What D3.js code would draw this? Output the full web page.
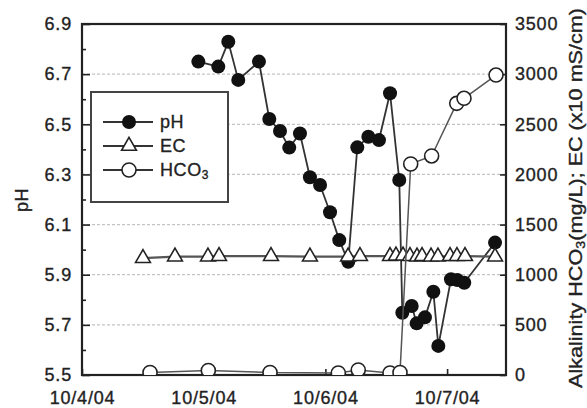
<!DOCTYPE html>
<html><head><meta charset="utf-8">
<script src="https://cdn.jsdelivr.net/npm/d3@7"></script>
<style>
html,body{margin:0;padding:0;background:#fff;}
text{font-family:"Liberation Sans",Arial,Helvetica,sans-serif;fill:#222;stroke:#222;stroke-width:0.35px;}
</style></head>
<body>
<svg id="chart" width="587" height="408"></svg>
<script>
// ---- data (x in days since 10/4/04) ----
const dayTicks = [0, 1, 2, 3];
const dayLabels = ["10/4/04", "10/5/04", "10/6/04", "10/7/04"];
const phTicks = [5.5, 5.7, 5.9, 6.1, 6.3, 6.5, 6.7, 6.9];
const rightTicks = [0, 500, 1000, 1500, 2000, 2500, 3000, 3500];

const phDays = [0.956,1.120,1.202,1.284,1.454,1.539,1.627,1.703,1.791,1.873,1.956,2.038,2.114,2.188,2.262,2.353,2.440,2.531,2.607,2.632,2.709,2.750,2.818,2.887,2.928,3.032,3.084,3.141,3.394];
const phValues = [6.750,6.730,6.829,6.677,6.750,6.521,6.473,6.407,6.463,6.289,6.258,6.149,6.038,5.952,6.408,6.450,6.437,6.624,6.278,5.748,5.775,5.706,5.730,5.832,5.616,5.882,5.879,5.868,6.028];

const ecDays = [0.501,0.764,1.035,1.126,1.553,1.873,2.186,2.284,2.531,2.580,2.638,2.695,2.753,2.794,2.868,2.925,3.024,3.081,3.147,3.394];
const ecValues = [1165,1180,1180,1185,1185,1180,1180,1185,1185,1190,1190,1185,1180,1185,1180,1180,1185,1185,1185,1180];

const hco3Days = [0.559,1.038,1.545,2.106,2.270,2.531,2.613,2.701,2.873,3.079,3.139,3.402];
const hco3Values = [25,45,25,20,50,20,25,2104,2184,2709,2759,2991];

// ---- layout ----
const L = 82, R = 506, T = 24, B = 375;
const svg = d3.select("#chart");
const x = d3.scaleLinear().domain([0, 3.484]).range([L, R]);
const yL = d3.scaleLinear().domain([5.5, 6.9]).range([B, T]);
const yR = d3.scaleLinear().domain([0, 3500]).range([B, T]);

svg.append("defs").append("clipPath").attr("id","clip")
  .append("rect").attr("x",L).attr("y",T-10).attr("width",R-L).attr("height",B-T+10);

// gridlines
svg.append("g").selectAll("line").data(phTicks.filter(v => v > 5.55 && v < 6.85)).join("line")
  .attr("x1", L).attr("x2", R).attr("y1", d => yL(d)).attr("y2", d => yL(d))
  .attr("stroke", "#c4c4c4").attr("stroke-width", 1.3).attr("stroke-dasharray", "3,2");

const fs = 18;
function styleAxis(g){
  g.selectAll("text").attr("font-size", fs).attr("letter-spacing", "0.8px");
  g.selectAll(".tick line").attr("stroke","#222").attr("stroke-width",1.6);
  g.select(".domain").remove();
}
// left axis
svg.append("g").attr("transform", `translate(${L},0)`)
  .call(d3.axisLeft(yL).tickValues(phTicks).tickFormat(d3.format(".1f")).tickSizeInner(-8).tickSizeOuter(0).tickPadding(10))
  .call(styleAxis);
// left minor ticks
svg.append("g").attr("transform", `translate(${L},0)`)
  .call(d3.axisLeft(yL).tickValues([5.6,5.8,6.0,6.2,6.4,6.6,6.8]).tickFormat("").tickSizeInner(-4).tickSizeOuter(0))
  .call(styleAxis);
// right axis
svg.append("g").attr("transform", `translate(${R},0)`)
  .call(d3.axisRight(yR).tickValues(rightTicks).tickFormat(d3.format("d")).tickSizeInner(-6).tickSizeOuter(0).tickPadding(9))
  .call(styleAxis);
// bottom axis
svg.append("g").attr("transform", `translate(0,${B})`)
  .call(d3.axisBottom(x).tickValues(dayTicks).tickFormat((d,i) => dayLabels[i]).tickSizeInner(-6).tickSizeOuter(0).tickPadding(16))
  .call(styleAxis);

// frame
svg.append("rect").attr("x", L).attr("y", T).attr("width", R-L).attr("height", B-T)
  .attr("fill","none").attr("stroke","#222").attr("stroke-width",2.2);

// axis titles
svg.append("text").attr("transform", `translate(22,200) rotate(-90)`)
  .attr("text-anchor","middle").attr("dominant-baseline","central")
  .attr("font-size", fs).attr("letter-spacing","0.5px").text("pH");
const rt = svg.append("text").attr("transform", `translate(576,198) rotate(-90)`)
  .attr("text-anchor","middle").attr("dominant-baseline","central")
  .attr("font-size", fs).attr("textLength", 380).attr("lengthAdjust","spacingAndGlyphs");
rt.append("tspan").text("Alkalinity HCO");
rt.append("tspan").attr("font-size", 12).attr("dy", 5).text("3");
rt.append("tspan").attr("dy", -5).text("(mg/L); EC (x10 mS/cm)");

// series
const plot = svg.append("g").attr("clip-path","url(#clip)");
const phData = phDays.map((d,i) => [d, phValues[i]]);
const ecData = ecDays.map((d,i) => [d, ecValues[i]]);
const hcData = hco3Days.map((d,i) => [d, hco3Values[i]]);

plot.append("path").datum(phData)
  .attr("d", d3.line().x(d => x(d[0])).y(d => yL(d[1])))
  .attr("fill","none").attr("stroke","#333").attr("stroke-width",1.8);
plot.append("g").selectAll("circle").data(phData).join("circle")
  .attr("cx", d => x(d[0])).attr("cy", d => yL(d[1])).attr("r", 7).attr("fill","#111");

plot.append("path").datum(ecData)
  .attr("d", d3.line().x(d => x(d[0])).y(d => yR(d[1])))
  .attr("fill","none").attr("stroke","#555").attr("stroke-width",2.4);
const tri = d3.symbol(d3.symbolTriangle, 95);
plot.append("g").selectAll("path").data(ecData).join("path")
  .attr("transform", d => `translate(${x(d[0])},${yR(d[1])})`)
  .attr("d", tri).attr("fill","#fff").attr("stroke","#222").attr("stroke-width",1.6);

plot.append("path").datum(hcData)
  .attr("d", d3.line().x(d => x(d[0])).y(d => yR(d[1])))
  .attr("fill","none").attr("stroke","#555").attr("stroke-width",1.5);
plot.append("g").selectAll("circle").data(hcData).join("circle")
  .attr("cx", d => x(d[0])).attr("cy", d => yR(d[1])).attr("r", 7)
  .attr("fill","#fff").attr("stroke","#222").attr("stroke-width",1.6);

// legend
const lg = svg.append("g");
lg.append("rect").attr("x",91).attr("y",92).attr("width",137).attr("height",110)
  .attr("fill","#fff").attr("stroke","#444").attr("stroke-width",2);
const legendNames = ["pH","EC","HCO"];
legendNames.forEach((name,i) => {
  const yy = 122 + i*24;
  lg.append("line").attr("x1",103).attr("x2",153).attr("y1",yy).attr("y2",yy)
    .attr("stroke","#333").attr("stroke-width",1.8);
  if (i === 0) lg.append("circle").attr("cx",129).attr("cy",yy).attr("r",7).attr("fill","#111");
  if (i === 1) lg.append("path").attr("transform",`translate(129,${yy})`).attr("d",tri)
    .attr("fill","#fff").attr("stroke","#222").attr("stroke-width",1.6);
  if (i === 2) lg.append("circle").attr("cx",129).attr("cy",yy).attr("r",7)
    .attr("fill","#fff").attr("stroke","#222").attr("stroke-width",1.6);
  const t = lg.append("text").attr("x",160).attr("y",yy).attr("dominant-baseline","central")
    .attr("font-size",fs).attr("letter-spacing","0.6px");
  t.append("tspan").text(name);
  if (i === 2) t.append("tspan").attr("font-size",12).attr("dy",5).text("3");
});
</script>
</body></html>
